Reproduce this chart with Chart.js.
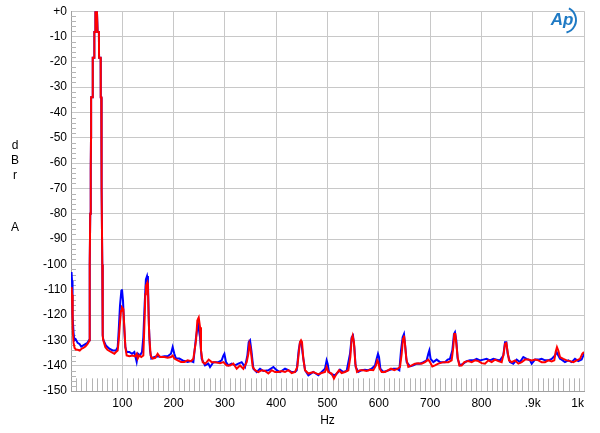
<!DOCTYPE html>
<html>
<head>
<meta charset="utf-8">
<script src="https://cdn.jsdelivr.net/npm/chart.js@4.4.1/dist/chart.umd.min.js"></script>
<style>
  html, body { margin: 0; padding: 0; background: #fff; }
  #wrap { width: 600px; height: 433px; }
</style>
</head>
<body>
<div id="wrap"><canvas id="fft" width="600" height="433"></canvas></div>
<script>
// Axis ticks
const xTicks = [0, 100, 200, 300, 400, 500, 600, 700, 800, 900, 1000];
const xTickLabels = ['', '100', '200', '300', '400', '500', '600', '700', '800', '.9k', '1k'];
const yTicks = [0, -10, -20, -30, -40, -50, -60, -70, -80, -90, -100, -110, -120, -130, -140, -150];
const yTickLabels = ['+0', '-10', '-20', '-30', '-40', '-50', '-60', '-70', '-80', '-90', '-100', '-110', '-120', '-130', '-140', '-150'];

// Fundamental (50 Hz) peak, shared by both channels
const peakHz = [35.7, 36.5, 37.5, 38.5, 39, 39.2, 42.2, 42.4, 45.3, 45.5, 47.3, 47.6, 50.6, 51.9, 54.4, 54.7, 57.8, 58, 59, 59.3, 60, 61, 61.8];
const peakDb = [-130, -100, -80, -62, -50, -34, -34, -18.4, -18.4, -8.2, -8.2, 0, 0, -8.2, -8.2, -18.4, -18.4, -34, -34, -50, -70, -100, -128];

// Blue channel
const blueLowHz = [1, 2, 2.5, 3.5, 5, 6.5, 9, 13, 17, 20, 24, 28, 32, 35];
const blueLowDb = [-103, -106.5, -110, -120, -127, -130, -129.5, -131, -131.5, -132.5, -132, -131.5, -131, -130];
const blueHz = [63, 68, 74.7, 81.2, 87.7, 91, 93, 95.5, 98.1, 99.4, 101.4, 104, 106, 108.5, 113.7, 118.9, 123.5, 128, 130.6, 134.5, 138.4, 141, 143.6, 146, 148.2, 150, 152, 154, 156.6, 162.5, 168.9, 175.4, 182, 188.4, 194.9, 198.2, 201.4, 204.7, 211.2, 217.7, 227.4, 233.9, 238.5, 243.7, 247.6, 251.5, 254.7, 261.2, 267.7, 271, 277.5, 287.2, 293.7, 297, 299, 302.2, 306.7, 313.2, 319.7, 326.2, 332.7, 339.2, 343.8, 346.4, 349, 351.6, 355.5, 362, 368.5, 375, 384.7, 394.5, 401, 407.4, 417.2, 423.7, 430.2, 436.7, 440, 443.8, 446.4, 449, 451.6, 456.2, 462.7, 472.4, 482.2, 488.6, 495.1, 498.3, 500.3, 502.9, 508, 514.6, 521, 524.3, 530.8, 537.3, 543.9, 547.1, 549.7, 552.3, 554.9, 560.1, 566.6, 573, 579.6, 586, 592.6, 595.8, 598.4, 600.4, 603, 608.8, 615.3, 621.8, 628.3, 634.8, 640, 643.3, 646.5, 649.1, 651.7, 654.3, 660.8, 667.3, 673.8, 680.3, 686.8, 693.3, 696.5, 698.5, 701, 706.3, 712.8, 719.3, 729, 734.2, 738.7, 743.3, 746.5, 748.5, 751.1, 753.7, 758.2, 764.7, 771.2, 777.7, 784.2, 790.7, 797.2, 803.7, 810.2, 816.7, 823.2, 829.7, 836.2, 842.7, 846, 848.6, 851.2, 855.7, 862.2, 868.7, 875.2, 881.7, 888.2, 894.7, 898, 904.5, 911, 917.5, 924, 930.5, 937, 943.4, 946.7, 949.9, 953.2, 956.4, 962.9, 969.4, 975.9, 982.4, 988.9, 995.4, 998.7, 1000];
const blueDb = [-129.8, -132, -133.3, -134, -134, -132.7, -126.1, -116.3, -110.5, -109.8, -114.4, -126, -132.7, -134.6, -134.6, -135.3, -134.6, -138.5, -135.3, -136, -134.6, -128.7, -115.7, -105.9, -104.6, -107.2, -124.8, -134, -137.2, -136.6, -136.3, -136.6, -136.3, -136.3, -135.3, -132.7, -135.3, -137.2, -137.2, -137.9, -138.5, -138.2, -138.6, -128.8, -123.5, -128.8, -137.3, -139.9, -139.2, -140.5, -138.6, -138.6, -137.9, -136, -135.3, -138.6, -139.9, -139.2, -139.9, -139.2, -138.6, -140.5, -136, -130.7, -130, -134, -141.2, -142.5, -141.2, -142.1, -141.8, -140.5, -141.8, -142.5, -141.2, -141.8, -142.5, -142.5, -141.8, -134, -130.7, -130.7, -135.3, -141.8, -143.8, -142.5, -143.8, -142.5, -141.2, -137.9, -139.2, -142.5, -143.4, -143.8, -142.5, -141.6, -142.5, -142.1, -135.3, -128.8, -128.1, -132.7, -140.5, -142.5, -141.8, -141.6, -141.8, -141.2, -139.9, -137.3, -135.3, -136.6, -141.2, -142.5, -142.1, -141.6, -141.2, -141.2, -141.8, -134, -128.8, -127.5, -132.7, -138.6, -140.3, -139.9, -139.2, -139.2, -138.6, -137.9, -135.3, -134, -137.3, -138.6, -137.6, -138.6, -138.6, -137.6, -137.3, -134, -127.5, -126.8, -130, -137.3, -139.9, -139.2, -138.2, -137.9, -137.9, -137.3, -137.9, -137.6, -137.3, -137.9, -137.3, -137.6, -137.9, -136, -130.7, -130.7, -135.3, -138.6, -139.2, -137.6, -138.6, -136.6, -137.3, -137.9, -139.2, -137.6, -137.6, -137.3, -137.9, -137.9, -137.3, -136, -134.6, -136, -137.3, -137.6, -138.6, -137.9, -138.6, -137.3, -138.2, -137.6, -136, -135];

// Red channel
const redLowHz = [1, 2, 3, 3.5, 5, 7, 10, 13, 17, 20, 24, 28, 32, 35];
const redLowDb = [-109, -112, -120, -125, -131, -133, -133.7, -133.7, -134, -133.4, -133, -132.4, -131.5, -130.5];
const redHz = [62.5, 63, 67, 71, 78, 84.5, 87.7, 91, 93, 95.5, 97.5, 99.4, 102, 104, 106, 108.5, 113.7, 120, 124.8, 128, 130, 133, 137, 141, 143.6, 144.9, 146, 148.8, 150, 151.4, 152.7, 155.3, 159.2, 164.4, 168.9, 173.5, 182, 188.4, 194.9, 198.2, 201.4, 207.9, 214.4, 220.9, 227.4, 233.9, 238.5, 243.7, 246.3, 249, 251.5, 253.4, 256.7, 261.2, 264.5, 268.4, 274.2, 280.7, 290.5, 297, 303.5, 310, 316.5, 323, 329.5, 336, 342.5, 345.7, 347.7, 349.6, 351.6, 354.2, 358.7, 365.2, 371.7, 378.2, 384.7, 391.2, 397.7, 404.2, 410.7, 417.2, 423.7, 430.2, 436.7, 441.2, 443.8, 446.4, 448.4, 450.3, 452.9, 456.2, 462.7, 472.4, 482.2, 488.6, 495.1, 498.3, 501.6, 508, 512.6, 517.8, 522.4, 527.6, 534, 540.6, 544.5, 547.1, 549, 551.6, 554.2, 557.5, 563.3, 569.8, 576.3, 582.8, 589.3, 594.5, 597.1, 599, 601.7, 605.6, 612, 618.6, 623.8, 630.3, 636.8, 641.3, 644.6, 647.2, 649.1, 651, 653.6, 657.5, 664, 670.5, 677, 683.5, 690, 696.5, 699.8, 704.3, 709.5, 716, 725.8, 735.5, 742, 745.2, 747.2, 749.1, 751.1, 753.7, 756.9, 761.5, 766.7, 774.5, 781, 787.5, 794, 800.5, 807, 813.5, 820, 826.5, 833, 839.5, 843.4, 846, 848.6, 851.2, 853.8, 859, 865.5, 872, 878.5, 885, 891.5, 898, 904.5, 911, 917.5, 924, 930.5, 937, 942.1, 944.7, 947.3, 949.9, 953.2, 959.7, 966.2, 972.7, 979.2, 985.7, 992.2, 996.7, 1000];
const redDb = [-129.5, -130, -132.7, -133.7, -134.6, -135.3, -134.6, -134, -130, -122.9, -118.3, -117, -117.7, -124.8, -132.7, -136, -136.3, -136, -136.3, -135.3, -137.2, -136, -136.6, -136, -120.9, -111.8, -108.5, -107.2, -109.8, -121, -128.7, -136, -137.2, -136.9, -135.3, -136.6, -136.6, -136.9, -136.6, -136, -137.2, -137.9, -138.5, -138.5, -137.9, -138.2, -137.3, -130, -122.2, -121, -124.8, -134, -138.6, -139.2, -138.6, -137.6, -138.6, -138.6, -139, -138.6, -139.9, -139.9, -139.2, -141.2, -139.9, -141.2, -138.6, -135.3, -131.4, -132.7, -136, -140.5, -141.8, -142.5, -141.8, -142.1, -143.1, -141.8, -142.5, -142.5, -142.1, -142.5, -141.8, -142.9, -142.5, -140.5, -135.3, -130.7, -130, -130.7, -137.3, -141.8, -143.1, -142.5, -143.4, -142.9, -142.5, -140.5, -142.5, -143.1, -145.1, -143.1, -141.8, -142.9, -142.5, -141.8, -136.6, -129.4, -128.1, -130.7, -139.2, -142.5, -141.8, -141.8, -142.1, -141.6, -141.8, -139.9, -137.9, -138.6, -141.2, -142.5, -142.5, -141.8, -141.2, -141.8, -141.2, -140.5, -135.3, -129.4, -128.1, -131.4, -137.3, -140.5, -139.9, -139.2, -139, -139.2, -138.6, -137.6, -138.6, -140.3, -139.9, -139.2, -138.6, -138.6, -137.9, -132.7, -127.5, -127.5, -131.4, -136.6, -139.9, -139.9, -138.6, -138.2, -138.6, -137.9, -138.2, -139, -139.2, -137.9, -138.6, -137.6, -138.2, -138.6, -135.3, -131.4, -131.1, -134.6, -137.9, -138.6, -137.9, -139.2, -138.6, -137.6, -137.6, -137.9, -137.6, -137.9, -138.6, -138.6, -137.9, -138.3, -137.9, -134.6, -132.7, -134, -136.6, -137.3, -137.9, -138.2, -138.6, -137.9, -137.3, -135.3, -134.6];

function toPoints(hzList, dbList) {
  return hzList.map((hz, i) => ({ x: hz, y: dbList[i] }));
}

const bluePoints = toPoints(blueLowHz, blueLowDb)
  .concat(toPoints(peakHz, peakDb), toPoints(blueHz, blueDb));
const redPoints = toPoints(redLowHz, redLowDb)
  .concat(toPoints(peakHz, peakDb), toPoints(redHz, redDb));

const FONT = '"Liberation Sans", Arial, sans-serif';

// Minor ticks, axis titles and the AP logo
const decorations = {
  id: 'decorations',
  beforeDatasetsDraw(chart) {
    const { ctx, chartArea, scales } = chart;
    ctx.save();
    ctx.strokeStyle = '#b4b4b4';
    ctx.lineWidth = 1;
    ctx.beginPath();
    // y minor ticks every 2 dB on the left edge
    for (let v = 0; v >= -150; v -= 2) {
      if (v % 10 === 0) continue;
      const y = Math.round(scales.y.getPixelForValue(v)) + 0.5;
      ctx.moveTo(chartArea.left, y);
      ctx.lineTo(chartArea.left + 5, y);
    }
    // x minor ticks every 10 Hz along the bottom
    const yTop = scales.y.getPixelForValue(-145);
    for (let f = 10; f < 1000; f += 10) {
      if (f % 100 === 0) continue;
      const x = Math.round(scales.x.getPixelForValue(f)) + 0.5;
      ctx.moveTo(x, yTop);
      ctx.lineTo(x, chartArea.bottom);
    }
    ctx.stroke();
    ctx.restore();
  },
  afterDraw(chart) {
    const { ctx, chartArea } = chart;
    ctx.save();
    ctx.fillStyle = '#000';
    ctx.font = '12px ' + FONT;
    ctx.textAlign = 'center';
    ctx.textBaseline = 'middle';
    [['d', 146], ['B', 161], ['r', 176], ['A', 228]].forEach(([ch, y]) => ctx.fillText(ch, 15, y));
    ctx.fillText('Hz', (chartArea.left + chartArea.right) / 2, 421);

    // AP logo
    ctx.fillStyle = '#1f7ac4';
    ctx.strokeStyle = '#1f7ac4';
    ctx.font = 'italic bold 17px ' + FONT;
    ctx.fillText('Ap', 562, 20);
    ctx.lineWidth = 2;
    ctx.beginPath();
    ctx.arc(563, 20, 13, -1.1, 1.3);
    ctx.stroke();
    ctx.restore();
  }
};

new Chart(document.getElementById('fft'), {
  type: 'line',
  data: {
    // red first so it is drawn on top of blue
    datasets: [
      { label: 'Red', data: redPoints, borderColor: '#ff0000', borderWidth: 2 },
      { label: 'Blue', data: bluePoints, borderColor: '#0000ff', borderWidth: 2 }
    ]
  },
  options: {
    responsive: false,
    animation: false,
    elements: { point: { radius: 0 }, line: { tension: 0 } },
    layout: { padding: { top: 8, right: 16, left: 0, bottom: 0 } },
    plugins: { legend: { display: false }, tooltip: { enabled: false } },
    scales: {
      x: {
        type: 'linear',
        min: 0,
        max: 1000,
        afterBuildTicks: s => { s.ticks = xTicks.map(v => ({ value: v })); },
        afterFit: s => { s.height = 42; },
        grid: { color: '#c8c8c8', drawTicks: false },
        border: { color: '#a0a0a0' },
        ticks: {
          padding: 5,
          align: 'inner',
          color: '#000',
          font: { family: FONT, size: 12 },
          maxRotation: 0,
          callback: v => xTickLabels[xTicks.indexOf(v)]
        }
      },
      y: {
        min: -150,
        max: 0,
        afterBuildTicks: s => { s.ticks = yTicks.map(v => ({ value: v })); },
        afterFit: s => { s.width = 71; },
        grid: { color: '#c8c8c8', drawTicks: false },
        border: { color: '#a0a0a0' },
        ticks: {
          padding: 4,
          color: '#000',
          font: { family: FONT, size: 12 },
          callback: v => yTickLabels[yTicks.indexOf(v)]
        }
      }
    }
  },
  plugins: [decorations]
});
</script>
</body>
</html>
